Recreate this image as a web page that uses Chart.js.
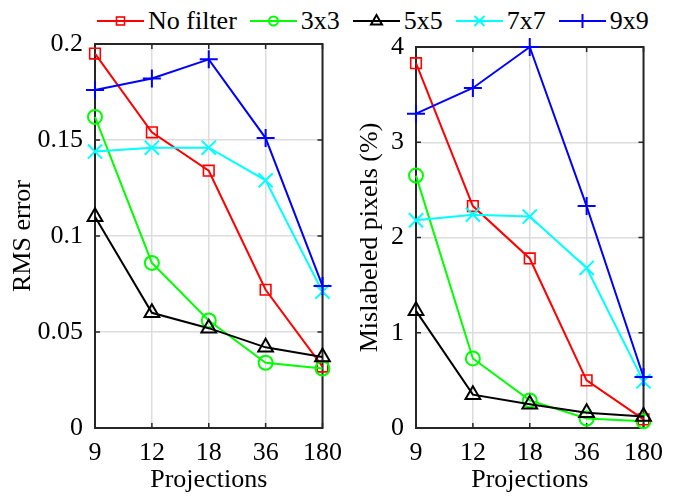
<!DOCTYPE html>
<html>
<head>
<meta charset="utf-8">
<script src="https://cdn.jsdelivr.net/npm/chart.js@4"></script>
<style>
  body { margin: 0; background: #fff; width: 673px; height: 497px; position: relative; overflow: hidden; }
  #left-wrap { position: absolute; left: 0; top: 0; width: 352px; height: 497px; }
  #right-wrap { position: absolute; left: 345px; top: 0; width: 328px; height: 497px; }
  #legend { position: absolute; left: 97px; top: 6px; height: 30px; display: flex; align-items: center; gap: 13px;
    font-family: 'Liberation Serif', 'Times New Roman', serif; font-size: 26px; color: #000; }
  .item { display: flex; align-items: center; gap: 4px; }
  .item svg { display: block; }
</style>
</head>
<body>
<div id="legend"></div>
<div id="left-wrap"><canvas id="rms-chart" width="352" height="497"></canvas></div>
<div id="right-wrap"><canvas id="mis-chart" width="328" height="497"></canvas></div>
<script>
// Data
const projections = ['9', '12', '18', '36', '180'];
const seriesNames = ['No filter', '3x3', '5x5', '7x7', '9x9'];

const rmsNoFilter = [0.195, 0.154, 0.134, 0.072, 0.032];
const rms3x3 = [0.162, 0.086, 0.056, 0.034, 0.031];
const rms5x5 = [0.110, 0.060, 0.052, 0.042, 0.037];
const rms7x7 = [0.144, 0.146, 0.146, 0.129, 0.071];
const rms9x9 = [0.176, 0.182, 0.192, 0.151, 0.074];

const misNoFilter = [3.83, 2.33, 1.78, 0.50, 0.09];
const mis3x3 = [2.65, 0.73, 0.29, 0.10, 0.07];
const mis5x5 = [1.23, 0.35, 0.25, 0.16, 0.12];
const mis7x7 = [2.18, 2.24, 2.22, 1.68, 0.49];
const mis9x9 = [3.30, 3.57, 4.00, 2.33, 0.535];

const rmsTicks = [0, 0.05, 0.1, 0.15, 0.2];
const misTicks = [0, 1, 2, 3, 4];

const FONT = "'Liberation Serif', 'Times New Roman', serif";
const FRAME = '#262626';

const styles = [
  { color: '#ff0000', pointStyle: 'rect', radius: 7.5, width: 1.6 },
  { color: '#00ff00', pointStyle: 'circle', radius: 7, width: 2 },
  { color: '#000000', pointStyle: 'triangle', radius: 8.5, width: 2 },
  { color: '#00ffff', pointStyle: 'crossRot', radius: 10, width: 2 },
  { color: '#0000ff', pointStyle: 'cross', radius: 9, width: 2 }
];

function buildDatasets(seriesList) {
  return seriesList.map((values, i) => ({
    label: seriesNames[i],
    data: values,
    borderColor: styles[i].color,
    backgroundColor: 'rgba(0,0,0,0)',
    borderWidth: 2,
    pointStyle: styles[i].pointStyle,
    pointRadius: styles[i].radius,
    pointBorderWidth: styles[i].width,
    pointBorderColor: styles[i].color,
    pointBackgroundColor: 'rgba(0,0,0,0)',
    tension: 0,
    clip: false,
    order: seriesList.length - i
  }));
}

// box frame + inward ticks, drawn under the data like MATLAB
const framePlugin = {
  id: 'frame',
  beforeDatasetsDraw(chart) {
    const { ctx, chartArea: a, scales } = chart;
    ctx.save();
    ctx.strokeStyle = FRAME;
    ctx.lineWidth = 1.5;
    ctx.beginPath();
    scales.y.ticks.forEach((t, i) => {
      const y = scales.y.getPixelForTick(i);
      ctx.moveTo(a.left, y); ctx.lineTo(a.left + 5, y);
      ctx.moveTo(a.right, y); ctx.lineTo(a.right - 5, y);
    });
    scales.x.ticks.forEach((t, i) => {
      const x = scales.x.getPixelForTick(i);
      ctx.moveTo(x, a.bottom); ctx.lineTo(x, a.bottom - 5);
      ctx.moveTo(x, a.top); ctx.lineTo(x, a.top + 5);
    });
    ctx.stroke();
    ctx.lineWidth = 2;
    ctx.strokeRect(a.left, a.top, a.right - a.left, a.bottom - a.top);
    ctx.restore();
  }
};

function makeChart(canvasId, seriesList, yMax, yStep, yTitle, opts) {
  const ctx = document.getElementById(canvasId).getContext('2d');
  return new Chart(ctx, {
    type: 'line',
    data: { labels: projections, datasets: buildDatasets(seriesList) },
    options: {
      responsive: false,
      animation: false,
      layout: { padding: { top: opts.top, right: opts.right, bottom: 0, left: 0 } },
      plugins: { legend: { display: false }, tooltip: { enabled: false } },
      scales: {
        x: {
          type: 'category',
          offset: false,
          grid: { color: '#dcdcdc', lineWidth: 1.5, drawTicks: false },
          border: { display: false },
          ticks: { color: '#000', padding: 10, maxRotation: 0, font: { family: FONT, size: 26 } },
          title: { display: true, text: 'Projections', color: '#000', padding: { top: 0, bottom: 1 },
            font: { family: FONT, size: 26 } },
          afterFit(scale) { scale.height = 69; }
        },
        y: {
          min: 0,
          max: yMax,
          grid: { color: '#dcdcdc', lineWidth: 1.5, drawTicks: false },
          border: { display: false },
          ticks: {
            stepSize: yStep, color: '#000', padding: 12, font: { family: FONT, size: 26 },
            callback: v => String(+v.toFixed(2))
          },
          title: { display: true, text: yTitle, color: '#000', padding: { top: opts.titlePad, bottom: 0 },
            font: { family: FONT, size: 26 } },
          afterFit(scale) { scale.width = opts.yWidth; }
        }
      }
    },
    plugins: [framePlugin]
  });
}

makeChart('rms-chart', [rmsNoFilter, rms3x3, rms5x5, rms7x7, rms9x9],
  rmsTicks[rmsTicks.length - 1], rmsTicks[1] - rmsTicks[0], 'RMS error',
  { top: 44, right: 20, yWidth: 95, titlePad: 8 });

makeChart('mis-chart', [misNoFilter, mis3x3, mis5x5, mis7x7, mis9x9],
  misTicks[misTicks.length - 1], misTicks[1] - misTicks[0], 'Mislabeled pixels (%)',
  { top: 47, right: 20, yWidth: 71, titlePad: 10 });

// legend (shared by both panels)
function markerSvg(st) {
  const c = st.color;
  let m = '';
  if (st.pointStyle === 'rect') m = `<rect x="19.5" y="11" width="8" height="8" fill="none" stroke="${c}" stroke-width="1.6"/>`;
  if (st.pointStyle === 'circle') m = `<circle cx="23.5" cy="15" r="4.5" fill="none" stroke="${c}" stroke-width="2"/>`;
  if (st.pointStyle === 'triangle') m = `<polygon points="23.5,9 29,18.5 18,18.5" fill="none" stroke="${c}" stroke-width="2"/>`;
  if (st.pointStyle === 'crossRot') m = `<path d="M18.5 10 L28.5 20 M28.5 10 L18.5 20" stroke="${c}" stroke-width="2"/>`;
  if (st.pointStyle === 'cross') m = `<path d="M23.5 8 L23.5 22 M16.5 15 L30.5 15" stroke="${c}" stroke-width="2"/>`;
  return `<svg width="47" height="30"><line x1="0" y1="15" x2="47" y2="15" stroke="${c}" stroke-width="2"/>${m}</svg>`;
}

const legend = document.getElementById('legend');
seriesNames.forEach((name, i) => {
  const item = document.createElement('div');
  item.className = 'item';
  item.innerHTML = markerSvg(styles[i]) + `<span>${name}</span>`;
  legend.appendChild(item);
});
</script>
</body>
</html>
